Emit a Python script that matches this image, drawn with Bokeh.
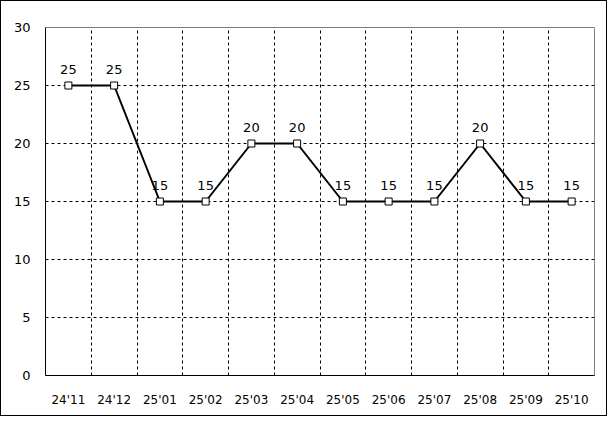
from bokeh.plotting import figure
from bokeh.models import FixedTicker, ColumnDataSource, Range1d
from bokeh.embed import file_html
from bokeh.resources import INLINE
from bokeh.core.properties import value

months = ["24'11", "24'12", "25'01", "25'02", "25'03", "25'04",
          "25'05", "25'06", "25'07", "25'08", "25'09", "25'10"]
values = [25, 25, 15, 15, 20, 20, 15, 15, 15, 20, 15, 15]
y_ticks = [0, 5, 10, 15, 20, 25, 30]

xs = [i + 0.5 for i in range(len(months))]
src = ColumnDataSource(dict(x=xs, y=values, lab=[str(v) for v in values]))

p = figure(width=607, height=416, output_backend="svg", toolbar_location=None,
           x_range=Range1d(0, len(months)), y_range=Range1d(0, 30),
           min_border_left=44, min_border_right=14, min_border_top=26, min_border_bottom=42)
p.styles = {"border": "1px solid black", "box-sizing": "border-box"}

p.line("x", "y", source=src, line_color="black", line_width=2)
p.scatter("x", "y", source=src, marker="square", size=7, fill_color="white",
          line_color="black", line_width=1)
p.text("x", "y", text="lab", source=src, y_offset=-12, text_align="center",
       text_baseline="bottom", text_font_size="13px", text_color="black",
       text_font=value("DejaVu Sans"))

p.xaxis.ticker = FixedTicker(ticks=xs)
p.xaxis.major_label_overrides = {x: m for x, m in zip(xs, months)}
p.yaxis.ticker = FixedTicker(ticks=y_ticks)
for ax in (p.xaxis, p.yaxis):
    ax.major_tick_line_color = None
    ax.minor_tick_line_color = None
    ax.axis_line_color = "black"
    ax.axis_line_width = 1
    ax.major_label_text_color = "black"
    ax.major_label_text_font = "DejaVu Sans"
p.xaxis.major_label_text_font_size = "12px"
p.yaxis.major_label_text_font_size = "13px"
p.xaxis.major_label_standoff = 11
p.yaxis.major_label_standoff = 9

p.xgrid.ticker = FixedTicker(ticks=list(range(1, len(months))))
p.ygrid.ticker = FixedTicker(ticks=y_ticks[1:-1])
for g in (p.xgrid, p.ygrid):
    g.grid_line_color = "black"
    g.grid_line_dash = "3 3"
    g.grid_line_width = 1
p.outline_line_color = "#808080"
p.outline_line_width = 1
p.background_fill_color = "white"
p.border_fill_color = "white"

open("out.html", "w").write(file_html(p, INLINE))
